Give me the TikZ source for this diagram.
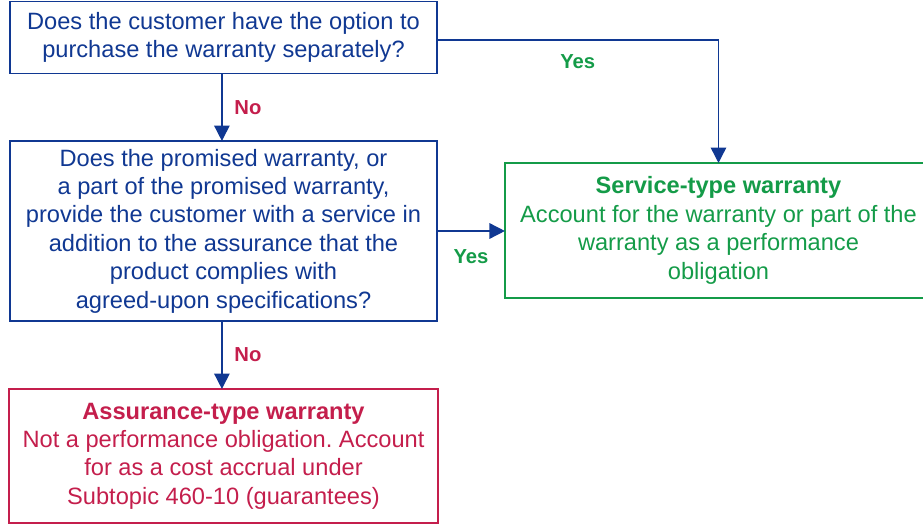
\documentclass[tikz,border=0pt]{standalone}
\usepackage{fontspec}
\setmainfont{Liberation Sans}
\usetikzlibrary{positioning,arrows.meta}
\definecolor{qblue}{RGB}{16,56,146}
\definecolor{svcgreen}{RGB}{20,155,72}
\definecolor{asrred}{RGB}{196,30,76}
\frenchspacing

\begin{document}
\begin{tikzpicture}[x=0.025cm,y=-0.025cm,
  box/.style={draw,line width=1.1pt,align=center,inner sep=0pt,outer sep=0pt,
    font=\fontsize{16.8}{20.2}\selectfont},
  qbox/.style={box,draw=qblue,text=qblue,minimum width=10.675cm},
  flow/.style={qblue,line width=1.1pt,-{Triangle[length=11pt,width=11pt]}},
  lbl/.style={font=\fontsize{14.4}{17}\selectfont\bfseries}]
  \useasboundingbox (0,0) rectangle (923,525);
  % questions
  \node[qbox,minimum height=1.8cm] (optsep) at (223.5,37.5)
    {Does the customer have the option to\\purchase the warranty separately?};
  \node[qbox,minimum height=4.5cm] (service) at (223.5,231)
    {Does the promised warranty, or\\a part of the promised warranty,\\provide the customer with a service in\\addition to the assurance that the\\product complies with\\agreed-upon specifications?};
  % outcomes
  \node[box,draw=svcgreen,text=svcgreen,minimum width=10.675cm,minimum height=3.375cm] (svctype) at (718.5,230.5)
    {\textbf{Service-type warranty}\\Account for the warranty or part of the\\warranty as a performance\\obligation};
  \node[box,draw=asrred,text=asrred,minimum width=10.725cm,minimum height=3.35cm] (asrtype) at (223.5,456)
    {\textbf{Assurance-type warranty}\\Not a performance obligation. Account\\for as a cost accrual under\\Subtopic 460-10 (guarantees)};
  % connectors
  \draw[flow] ([xshift=-0.04cm]optsep.south) -- ([xshift=-0.04cm]service.north)
    node[lbl,asrred,midway,right=5pt] (no1) {No};
  \draw[flow] ([yshift=-0.06cm]optsep.east) -| (svctype.north)
    node[lbl,svcgreen,pos=0.25,below=6.5pt] (yes1) {Yes};
  \draw[flow] (service.east) -- (service.east -| svctype.west)
    node[lbl,svcgreen,midway,below=9pt] (yes2) {Yes};
  \draw[flow] ([xshift=-0.04cm]service.south) -- ([xshift=-0.04cm]asrtype.north)
    node[lbl,asrred,midway,right=5pt] (no2) {No};
\end{tikzpicture}
\end{document}
